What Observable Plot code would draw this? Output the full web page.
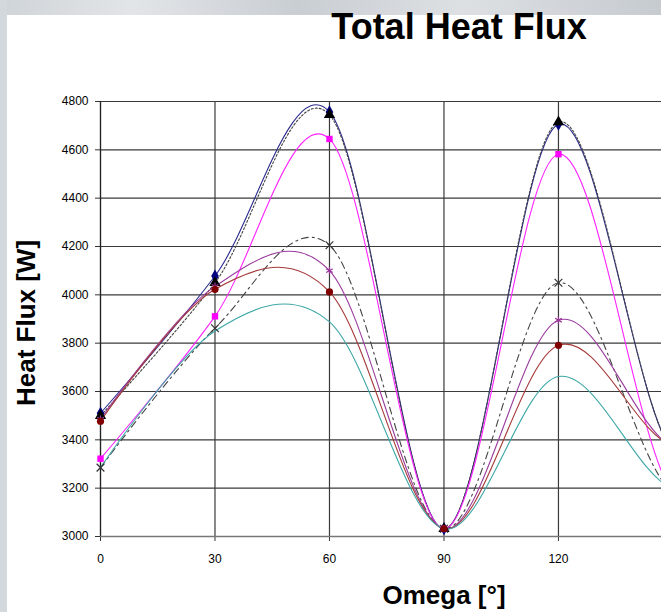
<!DOCTYPE html>
<html>
<head>
<meta charset="utf-8">
<script src="https://cdn.jsdelivr.net/npm/d3@7"></script>
<script src="https://cdn.jsdelivr.net/npm/@observablehq/plot@0.6"></script>
<style>
  html, body { margin: 0; padding: 0; overflow: hidden; background: #fff; }
  #wrap { position: relative; width: 661px; height: 612px; overflow: hidden; background: #fff; font-family: "Liberation Sans", Arial, sans-serif; }
  #band-top { position: absolute; left: 0; top: 0; width: 661px; height: 15px;
    background: linear-gradient(90deg, #cfd4d8 0%, #e2e5e8 20%, #c9ced3 45%, #dde0e3 70%, #c6cbd0 100%); }
  #band-left { position: absolute; left: 0; top: 0; width: 7px; height: 612px; background: #d3d8dc; }
  #title { position: absolute; left: 459px; top: 6px; transform: translateX(-50%); font-size: 36px; font-weight: bold; white-space: nowrap; color: #000; }
  #ytitle { position: absolute; left: 26px; top: 323px; transform: translate(-50%, -50%) rotate(-90deg); font-size: 26px; font-weight: bold; white-space: nowrap; color: #000; }
  #xtitle { position: absolute; left: 444px; top: 580px; transform: translateX(-50%); font-size: 26px; font-weight: bold; white-space: nowrap; color: #000; }
  #chart { position: absolute; left: 0; top: 0; }
</style>
</head>
<body>
<div id="wrap">
  <div id="band-top"></div>
  <div id="band-left"></div>
  <div id="chart"></div>
  <div id="title">Total Heat Flux</div>
  <div id="ytitle">Heat Flux [W]</div>
  <div id="xtitle">Omega [°]</div>
</div>
<script>
// ---- data (150/180 estimated from the curves leaving the right edge) ----
const omega = [0, 30, 60, 90, 120, 150, 180];
const xTicks = [0, 30, 60, 90, 120];
const yTicks = [3000, 3200, 3400, 3600, 3800, 4000, 4200, 4400, 4600, 4800];

const navyDiamond   = [3510, 4078, 4757, 3032, 4706, 3347, 3510];
const blackTriangle = [3500, 4050, 4745, 3032, 4715, 3346, 3500];
const magentaSquare = [3322, 3911, 4645, 3032, 4582, 3179, 3322];
const greyCross     = [3285, 3862, 4205, 3032, 4050, 3179, 3285];
const purpleStar    = [3485, 4035, 4100, 3032, 3895, 3371, 3485];
const redCircle     = [3477, 4023, 4012, 3032, 3791, 3374, 3477];
const tealLine      = [3285, 3850, 3888, 3032, 3662, 3196, 3285];

const seriesNames = ["Series 1", "Series 2", "Series 3", "Series 4", "Series 5", "Series 6", "Series 7"];
const seriesValues = [navyDiamond, blackTriangle, magentaSquare, greyCross, purpleStar, redCircle, tealLine];

// styles per series
const styles = [
  {stroke: "#2b2b8c", dash: null,        symbol: "diamond",  fill: "#000080", mstroke: "none",    r: 4},
  {stroke: "#444444", dash: "2,2",       symbol: "triangle", fill: "#000000", mstroke: "none",    r: 4.2},
  {stroke: "#ff22ff", dash: null,        symbol: "square",   fill: "#ff00ff", mstroke: "none",    r: 3.6},
  {stroke: "#444444", dash: "7,4,2,4",   symbol: "times",    fill: "none",    mstroke: "#333333", r: 3.6},
  {stroke: "#9a3c9e", dash: null,        symbol: "asterisk", fill: "none",    mstroke: "#993399", r: 3.6},
  {stroke: "#a53a3a", dash: null,        symbol: "circle",   fill: "#800000", mstroke: "none",    r: 3.6},
  {stroke: "#3ea7a7", dash: null,        symbol: null,       fill: "none",    mstroke: "none",    r: 0}
];

const marks = [
  Plot.gridY({ticks: yTicks, stroke: "#3a3a3a", strokeOpacity: 1, strokeWidth: 1.2}),
  Plot.gridX({ticks: xTicks, stroke: "#3a3a3a", strokeOpacity: 1, strokeWidth: 1.2}),
  Plot.axisY({ticks: yTicks, tickSize: 5, tickPadding: 7, fontSize: 12, label: null, tickFormat: d => String(d), stroke: "#333"}),
  Plot.axisX({ticks: xTicks, tickSize: 5, tickPadding: 13, fontSize: 12, label: null, tickFormat: d => String(d), stroke: "#333"}),
  Plot.ruleX([0], {stroke: "#222", strokeWidth: 1.2}),
  Plot.ruleY([3000], {stroke: "#777", strokeWidth: 1.4})
];

seriesValues.forEach((vals, i) => {
  const rows = omega.map((o, j) => ({omega: o, flux: vals[j], series: seriesNames[i]}));
  const s = styles[i];
  marks.push(Plot.line(rows, {
    x: "omega", y: "flux", curve: "cardinal", tension: 0,
    stroke: s.stroke, strokeWidth: 1.1, strokeDasharray: s.dash, clip: true
  }));
});

seriesValues.forEach((vals, i) => {
  const s = styles[i];
  if (!s.symbol) return;
  const rows = omega.map((o, j) => ({omega: o, flux: vals[j]})).filter(d => d.omega <= 120);
  marks.push(Plot.dot(rows, {
    x: "omega", y: "flux", symbol: s.symbol, r: s.r,
    fill: s.fill, stroke: s.mstroke, strokeWidth: 1.2
  }));
});

const chart = Plot.plot({
  width: 661,
  height: 612,
  marginLeft: 100,
  marginRight: 0,
  marginTop: 101,
  marginBottom: 76,
  style: {background: "transparent", fontFamily: "'Liberation Sans', Arial, sans-serif", color: "#000", fontSize: "12px"},
  x: {domain: [0, 147]},
  y: {domain: [3000, 4800]},
  marks
});
document.getElementById("chart").appendChild(chart);
</script>
</body>
</html>
